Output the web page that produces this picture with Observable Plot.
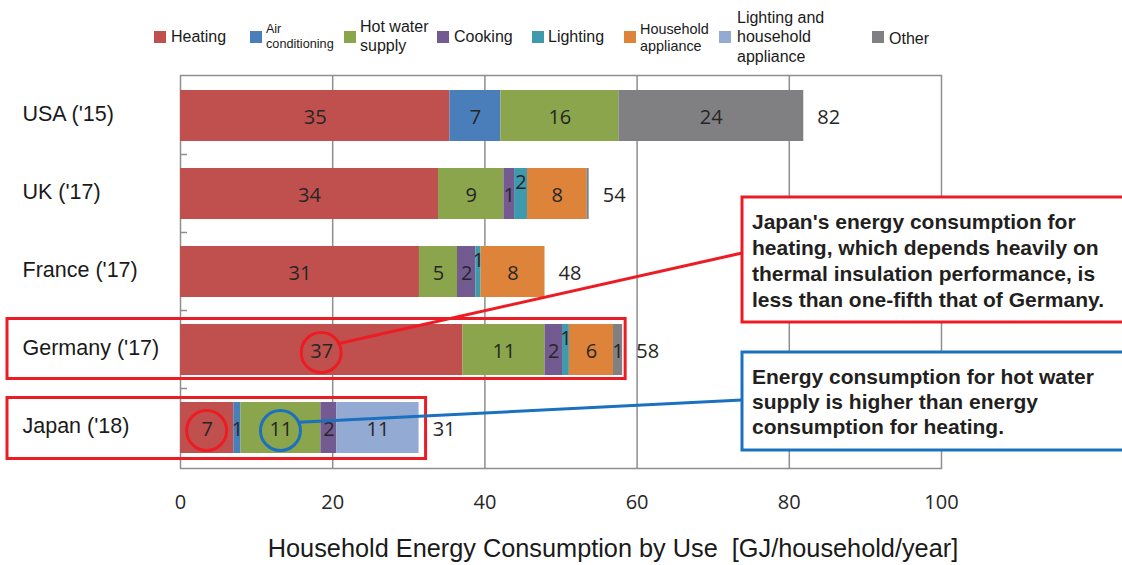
<!DOCTYPE html>
<html><head><meta charset="utf-8">
<script src="https://cdn.jsdelivr.net/npm/d3@7"></script>
<script src="https://cdn.jsdelivr.net/npm/@observablehq/plot@0.6"></script>
<style>
body{margin:0;background:#fff;}
#legend{position:relative;width:1122px;height:70px;font-family:"Liberation Sans",Arial,sans-serif;color:#1a1a1a;}
.sw{position:absolute;width:12px;height:12px;}
.lt{position:absolute;white-space:nowrap;line-height:1;}
#chart svg{display:block;}
</style></head><body>
<div id="legend"></div>
<div id="chart"></div>
<script>
// ---- data ----
const countries = ["USA ('15)", "UK ('17)", "France ('17)", "Germany ('17)", "Japan ('18)"];
const uses = ["Heating", "Air conditioning", "Hot water supply", "Cooking", "Lighting", "Household appliance", "Lighting and household appliance", "Other"];
const useColors = ["#c0504d", "#4a7ebb", "#8aa54b", "#735a91", "#3f9aae", "#dd843a", "#93aad2", "#808083"];
const heating           = [35.4, 33.9, 31.4, 37.1, 7.0];
const airConditioning   = [6.7, 0, 0, 0, 0.95];
const hotWater          = [15.5, 8.6, 5.0, 10.8, 10.5];
const cooking           = [0, 1.4, 2.4, 2.3, 2.1];
const lighting          = [0, 1.7, 0.7, 0.9, 0];
const householdAppl     = [0, 7.8, 8.4, 5.8, 0];
const lightingAndAppl   = [0, 0, 0, 0, 10.8];
const other             = [24.3, 0.3, 0, 1.2, 0];
const xTicks = [0, 20, 40, 60, 80, 100];
const xTitle = "Household Energy Consumption by Use \u00a0[GJ/household/year]";
const note1 = ["Japan's energy consumption for", "heating, which depends heavily on", "thermal insulation performance, is", "less than one-fifth that of Germany."];
const note2 = ["Energy consumption for hot water", "supply is higher than energy", "consumption for heating."];

const series = [heating, airConditioning, hotWater, cooking, lighting, householdAppl, lightingAndAppl, other];

// ---- legend (HTML, above the SVG) ----
const legendLayout = [
  {sw: 154, tx: 171, lines: [["Heating", 16, 37]]},
  {sw: 250, tx: 266, lines: [["Air", 12.5, 29], ["conditioning", 12.7, 44]]},
  {sw: 344, tx: 360, lines: [["Hot water", 16, 27], ["supply", 16, 46]]},
  {sw: 437, tx: 454, lines: [["Cooking", 16, 37]]},
  {sw: 532, tx: 548, lines: [["Lighting", 16, 37]]},
  {sw: 624, tx: 640, lines: [["Household", 14.4, 29], ["appliance", 14.4, 46]]},
  {sw: 719, tx: 737, lines: [["Lighting and", 16, 18], ["household", 16, 37], ["appliance", 16, 57]]},
  {sw: 872, tx: 889, lines: [["Other", 16, 39]]}
];
const legend = document.getElementById("legend");
legendLayout.forEach((it, i) => {
  const s = document.createElement("div");
  s.className = "sw";
  s.style.left = it.sw + "px"; s.style.top = "31px"; s.style.background = useColors[i];
  legend.appendChild(s);
  it.lines.forEach(([t, fs, yc]) => {
    const d = document.createElement("div");
    d.className = "lt";
    d.textContent = t;
    d.style.left = it.tx + "px";
    d.style.fontSize = fs + "px";
    d.style.top = (yc - fs * 0.5) + "px";
    legend.appendChild(d);
  });
});

// ---- table built from the arrays ----
const rows = [];
const totals = [];
countries.forEach((c, i) => {
  let acc = 0, prev = null;
  series.forEach((s, j) => {
    const v = s[i];
    if (v > 0) {
      rows.push({country: c, use: uses[j], value: v, x1: acc, x2: acc + v,
                 raised: v < 2 && prev !== null && prev < 3});
      prev = v;
    }
    acc += v;
  });
  totals.push({country: c, total: acc});
});
const labelled = rows.filter(d => Math.round(d.value) >= 1);

const numFont = "'Open Sans', sans-serif";
const txtFont = "'Liberation Sans', Arial, sans-serif";

const chart = Plot.plot({
  width: 1122, height: 495,
  marginLeft: 180, marginRight: 181, marginTop: 5, marginBottom: 97,
  x: {domain: [0, 100], axis: null},
  y: {domain: countries, axis: null, paddingInner: 0.34, paddingOuter: 0.17},
  color: {domain: uses, range: useColors},
  style: {background: "#fff", fontFamily: numFont},
  marks: [
    Plot.ruleX(xTicks.slice(1, -1), {stroke: "#8e8e8e", strokeWidth: 1.5}),
    Plot.frame({stroke: "#8e8e8e", strokeWidth: 1.5}),
    Plot.barX(rows, {x1: "x1", x2: "x2", y: "country", fill: "use"}),
    Plot.text(labelled.filter(d => !d.raised), {x: d => (d.x1 + d.x2) / 2, y: "country", text: d => String(Math.round(d.value)), fontSize: 20, fill: "#262626", dy: 2, fontFamily: numFont}),
    Plot.text(labelled.filter(d => d.raised), {x: d => (d.x1 + d.x2) / 2, y: "country", text: d => String(Math.round(d.value)), fontSize: 20, fill: "#262626", dy: -11, fontFamily: numFont}),
    Plot.text(totals, {x: "total", y: "country", text: d => String(Math.round(d.total)), dx: 25, dy: 2, fontSize: 20, fill: "#262626", fontFamily: numFont}),
    Plot.text(xTicks, {x: d => d, text: d => String(d), frameAnchor: "bottom", dy: 40, fontSize: 20, fill: "#262626", fontFamily: numFont}),
    Plot.text(countries, {y: d => d, text: d => d, frameAnchor: "left", textAnchor: "start", dx: -158, dy: -2, fontSize: 21.5, fill: "#1a1a1a", fontFamily: txtFont}),
    Plot.text([xTitle], {frameAnchor: "bottom", text: d => d, dx: 52, dy: 88, fontSize: 25.3, fill: "#1a1a1a", fontFamily: txtFont})
  ]
});
document.getElementById("chart").appendChild(chart);

// ---- band boundary ticks and annotations ----
const xs = chart.scale("x"), ys = chart.scale("y");
const svg = d3.select(chart);
const bandC = c => ys.apply(c) + ys.bandwidth / 2;
const gap = (ys.step - ys.bandwidth) / 2;
const left = xs.apply(0);
countries.slice(1).forEach(c => {
  const y = ys.apply(c) - gap;
  svg.append("line").attr("x1", left).attr("x2", left + 7).attr("y1", y).attr("y2", y)
    .attr("stroke", "#8e8e8e").attr("stroke-width", 1.5);
});

const RED = "#ec1c24", BLUE = "#1b70c0";
const ann = svg.append("g").attr("fill", "none").attr("stroke-width", 3);
const get = (c, u) => rows.find(r => r.country === c && r.use === u);
const tot = c => totals.find(t => t.country === c).total;

// boxes around Germany and Japan
const ger = countries[3], jpn = countries[4];
ann.append("rect").attr("x", 7).attr("y", bandC(ger) - 31).attr("width", xs.apply(tot(ger)) + 3 - 7).attr("height", 60).attr("stroke", RED);
ann.append("rect").attr("x", 7).attr("y", bandC(jpn) - 30).attr("width", xs.apply(tot(jpn)) + 7 - 7).attr("height", 61).attr("stroke", RED);

// circles
const R = 20;
const circ = (c, u, col) => {
  const r = get(c, u);
  const cx = xs.apply((r.x1 + r.x2) / 2), cy = bandC(c) + 3;
  ann.append("circle").attr("cx", cx).attr("cy", cy).attr("r", R).attr("stroke", col);
  return [cx, cy];
};
const c37 = circ(ger, "Heating", RED);
circ(jpn, "Heating", RED);
const c11 = circ(jpn, "Hot water supply", BLUE);

// note boxes
const box1 = {x: 742, y: 127, h: 125};
const box2 = {x: 742, y: 282, h: 98};
const connect = (from, ang, to, col) => {
  ann.append("line").attr("x1", from[0] + Math.cos(ang) * R).attr("y1", from[1] + Math.sin(ang) * R)
    .attr("x2", to[0]).attr("y2", to[1]).attr("stroke", col);
};
connect(c37, -0.47, [box1.x, 183], RED);
connect(c11, -0.42, [box2.x, 330], BLUE);
ann.append("rect").attr("x", box1.x).attr("y", box1.y).attr("width", 420).attr("height", box1.h).attr("fill", "#fff").attr("stroke", RED);
ann.append("rect").attr("x", box2.x).attr("y", box2.y).attr("width", 420).attr("height", box2.h).attr("fill", "#fff").attr("stroke", BLUE);
const noteText = (lines, y0, step) => {
  const t = svg.append("g").attr("font-family", txtFont).attr("font-weight", "bold").attr("font-size", 21)
    .attr("fill", "#231f20").attr("text-anchor", "start");
  lines.forEach((l, i) => t.append("text").attr("x", 752).attr("y", y0 + i * step).attr("dy", "0.35em").text(l));
};
noteText(note1, 152, 26);
noteText(note2, 307, 25);
</script>
</body></html>
